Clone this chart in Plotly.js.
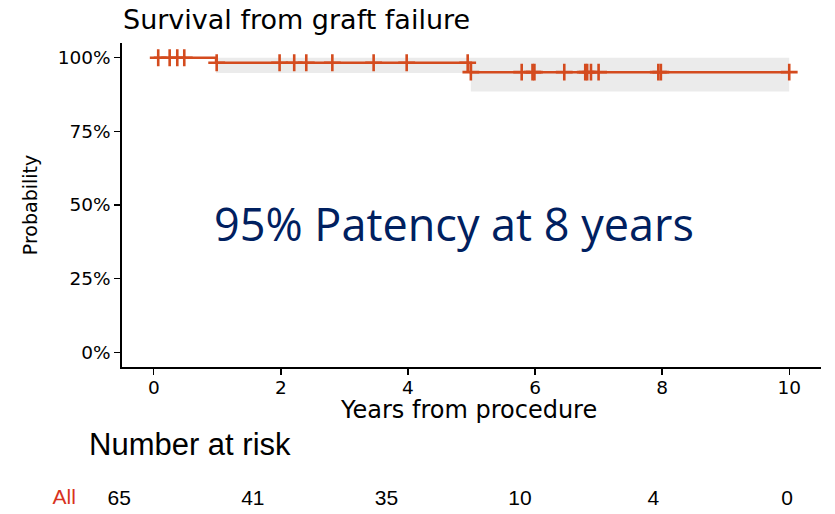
<!DOCTYPE html>
<html>
<head>
<meta charset="utf-8">
<script src="https://cdn.plot.ly/plotly-3.0.1.min.js"></script>
<style>html,body{margin:0;padding:0;background:#fff;}#chart{width:835px;height:514px;}</style>
</head>
<body>
<div id="chart"></div>
<script>
// Kaplan-Meier step curve (event times and survival levels)
const stepTimes = [0, 0.98, 4.99, 10];
const stepSurv  = [1.0, 0.983, 0.951, 0.951];

// 95% confidence band
const bandTimes = [0.98, 4.99, 10];
const bandUpper = [1.0, 1.0, 1.0];
const bandLower = [0.948, 0.885, 0.885];

// Censoring marks
const censorTimes = [0.07, 0.25, 0.37, 0.48,
                     0.99, 1.98, 2.21, 2.40, 2.81, 3.46, 3.98, 4.94,
                     4.99, 5.79, 5.96, 5.99, 6.46, 6.79, 6.82, 6.88, 7.00, 7.94, 7.98, 10.0];
const censorSurv  = [1.0, 1.0, 1.0, 1.0,
                     0.983, 0.983, 0.983, 0.983, 0.983, 0.983, 0.983, 0.983,
                     0.951, 0.951, 0.951, 0.951, 0.951, 0.951, 0.951, 0.951, 0.951, 0.951, 0.951, 0.951];

// Number at risk table
const strata     = ['All'];
const riskTimes  = [0, 2, 4, 6, 8, 10];
const riskCounts = [65, 41, 35, 10, 4, 0];

// Tick labels
const yTickVals = [0, 0.25, 0.5, 0.75, 1.0];
const yTickText = ['0%', '25%', '50%', '75%', '100%'];
const xTickVals = [0, 2, 4, 6, 8, 10];

const lineColor = '#d44b1e';
const baseFont = 'DejaVu Sans, Liberation Sans, Arial, sans-serif';
const arialFont = 'Liberation Sans, Arial, sans-serif';

// layout geometry helpers (pixel -> paper)
const W = 835, H = 514, ML = 60, MR = 14, MT = 43, MB = 2;
const PW = W - ML - MR, PH = H - MT - MB;
const px = p => (p - ML) / PW;
const py = p => (H - MB - p) / PH;

const traces = [
  { x: bandTimes, y: bandLower, type: 'scatter', mode: 'lines',
    line: {shape: 'hv', width: 0, color: 'rgba(0,0,0,0)'}, hoverinfo: 'skip', showlegend: false },
  { x: bandTimes, y: bandUpper, type: 'scatter', mode: 'lines', fill: 'tonexty',
    fillcolor: '#ebebeb', line: {shape: 'hv', width: 0, color: 'rgba(0,0,0,0)'}, hoverinfo: 'skip', showlegend: false },
  { x: stepTimes, y: stepSurv, type: 'scatter', mode: 'lines',
    line: {shape: 'hv', width: 2.5, color: lineColor}, name: 'All', showlegend: false },
  { x: censorTimes, y: censorSurv, type: 'scatter', mode: 'markers',
    marker: {symbol: 'cross-thin', size: 12, line: {width: 2.6, color: lineColor}, color: lineColor},
    showlegend: false },
  // Number-at-risk table (own subplot)
  { x: riskTimes, y: riskTimes.map(() => strata[0]), text: riskCounts.map(String),
    xaxis: 'x2', yaxis: 'y2', type: 'scatter', mode: 'text', cliponaxis: false,
    textposition: 'middle center', textfont: {family: arialFont, size: 21, color: '#000'},
    hoverinfo: 'skip', showlegend: false }
];

const annotations = [
  { text: '95% Patency at 8 years', xref: 'paper', yref: 'paper', x: px(454), y: py(224),
    xanchor: 'center', yanchor: 'middle', showarrow: false,
    font: {family: 'Open Sans, sans-serif', size: 45, color: '#002060'} },
  { text: 'Years from procedure', xref: 'paper', yref: 'paper', x: px(468.5), y: py(410),
    xanchor: 'center', yanchor: 'middle', showarrow: false,
    font: {family: baseFont, size: 24, color: '#000'} },
  { text: 'Number at risk', xref: 'paper', yref: 'paper', x: px(87), y: py(444),
    xanchor: 'left', yanchor: 'middle', showarrow: false,
    font: {family: arialFont, size: 31, color: '#000'} }
];

const layout = {
  width: W, height: H,
  margin: {l: ML, r: MR, t: MT, b: MB},
  paper_bgcolor: '#fff', plot_bgcolor: 'rgba(0,0,0,0)',
  title: {text: 'Survival from graft failure', xref: 'paper', x: px(123), xanchor: 'left',
          yref: 'container', y: 1 - 20/H, yanchor: 'middle',
          font: {family: baseFont, size: 27, color: '#000'}},
  xaxis: {domain: [px(122), 1], anchor: 'y', range: [-0.5, 10.5], tickvals: xTickVals, ticktext: xTickVals.map(String),
          showgrid: false, zeroline: false, showline: true, linecolor: '#000', linewidth: 1.6,
          ticks: 'outside', ticklen: 6, tickwidth: 1.4, tickcolor: '#000', ticklabelstandoff: -3,
          tickfont: {family: baseFont, size: 18.5, color: '#000'}},
  yaxis: {domain: [py(367), 1], anchor: 'x', range: [-0.05, 1.05], tickvals: yTickVals, ticktext: yTickText,
          showgrid: false, zeroline: false, showline: true, linecolor: '#000', linewidth: 1.6,
          ticks: 'outside', ticklen: 6, tickwidth: 1.4, tickcolor: '#000',
          tickfont: {family: baseFont, size: 18.5, color: '#000'},
          title: {text: 'Probability', standoff: 15, font: {family: baseFont, size: 19, color: '#000'}}},
  xaxis2: {domain: [px(85.9), px(820.4)], anchor: 'y2', range: [-0.5, 10.5],
           visible: false, showgrid: false, zeroline: false},
  yaxis2: {domain: [py(512), py(487)], anchor: 'x2', type: 'category', categoryarray: strata,
           range: [-0.5, 0.5], showgrid: false, zeroline: false, showline: false, ticks: '',
           ticklabelstandoff: 9, ticklabelshift: -3,
           tickfont: {family: arialFont, size: 21, color: '#d8321e'}},
  annotations: annotations,
  showlegend: false
};

Plotly.newPlot('chart', traces, layout, {displayModeBar: false, staticPlot: true});
</script>
</body>
</html>
